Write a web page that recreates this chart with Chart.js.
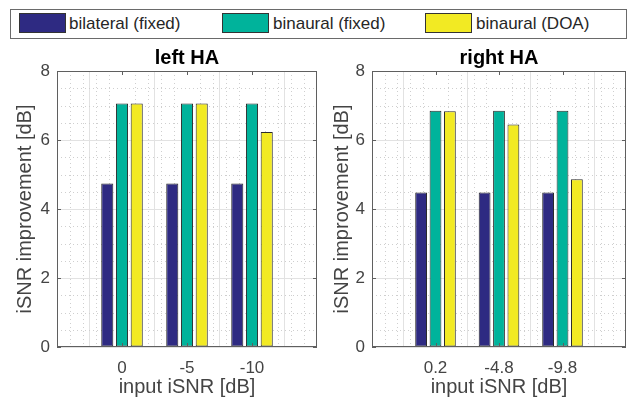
<!DOCTYPE html>
<html>
<head>
<meta charset="utf-8">
<script src="https://cdn.jsdelivr.net/npm/chart.js@4/dist/chart.umd.min.js"></script>
<style>
  html, body { margin: 0; padding: 0; background: #fff; }
  body { width: 629px; height: 399px; position: relative; overflow: hidden; font-family: "Liberation Sans", Arial, sans-serif; }
  #legend { position: absolute; left: 10px; top: 9px; width: 615px; height: 28px; border: 1px solid #6a6a6a; }
  .sw { position: absolute; top: 3px; width: 45px; height: 18px; border: 1px solid #333; }
  .lt { position: absolute; top: 3px; font-size: 17px; line-height: 21px; color: #262626; white-space: nowrap; }
  canvas { position: absolute; }
</style>
</head>
<body>
<div id="legend"></div>
<canvas id="leftChart" width="328" height="355" style="left:0px;top:44px"></canvas>
<canvas id="rightChart" width="319" height="355" style="left:318px;top:44px"></canvas>
<script>
// séries e categorias
const seriesNames = ["bilateral (fixed)", "binaural (fixed)", "binaural (DOA)"];
const seriesColors = ["#2e2a82", "#00b39b", "#f2ea23"];

const leftCats = ["0", "-5", "-10"];
const leftBilateral = [4.74, 4.74, 4.74];
const leftBinaural = [7.06, 7.06, 7.06];
const leftDoa = [7.06, 7.06, 6.23];

const rightCats = ["0.2", "-4.8", "-9.8"];
const rightBilateral = [4.48, 4.48, 4.48];
const rightBinaural = [6.85, 6.85, 6.85];
const rightDoa = [6.83, 6.45, 4.86];

const yTicks = [0, 2, 4, 6, 8];

Chart.defaults.font.family = '"Liberation Sans", Arial, sans-serif';

// === legenda (caixa única em cima) ===
const legend = document.getElementById("legend");
const swatchX = [8, 211, 414];
const textX = [58, 262, 465];
seriesNames.forEach((name, i) => {
  const sw = document.createElement("div");
  sw.className = "sw";
  sw.style.left = swatchX[i] + "px";
  sw.style.background = seriesColors[i];
  legend.appendChild(sw);
  const t = document.createElement("span");
  t.className = "lt";
  t.style.left = textX[i] + "px";
  t.textContent = name;
  legend.appendChild(t);
});

// grade menor pontilhada + caixa dos eixos, estilo MATLAB
const matlabBox = {
  id: "matlabBox",
  beforeDatasetsDraw(chart) {
    const { ctx, chartArea: a, scales: { x, y } } = chart;
    ctx.save();
    ctx.strokeStyle = "#cfcfcf";
    ctx.lineWidth = 1;
    ctx.setLineDash([1, 3]);
    for (let i = 1; i < 20; i++) {
      if (i % 5 === 0) continue;
      const px = Math.round(x.getPixelForValue(i / 5)) + 0.5;
      ctx.beginPath();
      ctx.moveTo(px, a.top);
      ctx.lineTo(px, a.bottom);
      ctx.stroke();
    }
    for (let i = 1; i < 16; i++) {
      if (i % 4 === 0) continue;
      const py = Math.round(y.getPixelForValue(i / 2)) + 0.5;
      ctx.beginPath();
      ctx.moveTo(a.left, py);
      ctx.lineTo(a.right, py);
      ctx.stroke();
    }
    ctx.restore();
  },
  afterDatasetsDraw(chart) {
    const { ctx, chartArea: a, scales: { x, y } } = chart;
    ctx.save();
    ctx.strokeStyle = "#5f5f5f";
    ctx.lineWidth = 1;
    ctx.strokeRect(Math.round(a.left) + 0.5, Math.round(a.top) + 0.5,
      Math.round(a.right - a.left) - 1, Math.round(a.bottom - a.top) - 1);
    ctx.beginPath();
    for (let i = 1; i < 4; i++) {
      const px = Math.round(x.getPixelForValue(i)) + 0.5;
      ctx.moveTo(px, a.top); ctx.lineTo(px, a.top + 4);
      ctx.moveTo(px, a.bottom); ctx.lineTo(px, a.bottom - 4);
    }
    yTicks.forEach(v => {
      const py = Math.round(y.getPixelForValue(v)) + 0.5;
      ctx.moveTo(a.left, py); ctx.lineTo(a.left + 4, py);
      ctx.moveTo(a.right, py); ctx.lineTo(a.right - 4, py);
    });
    ctx.stroke();
    ctx.restore();
  }
};

function buildChart(canvasId, title, cats, series, yAxisWidth, yTitlePad) {
  const labels = ["", ...cats, ""];
  const datasets = series.map((vals, i) => ({
    label: seriesNames[i],
    data: [null, ...vals, null],
    backgroundColor: seriesColors[i],
    borderColor: "#2b2b2b",
    borderWidth: 1,
    borderSkipped: false,
    categoryPercentage: 0.68,
    barPercentage: 0.82
  }));

  return new Chart(document.getElementById(canvasId), {
    type: "bar",
    data: { labels, datasets },
    plugins: [matlabBox],
    options: {
      responsive: false,
      animation: false,
      layout: { padding: { left: 0, right: 3, top: 0, bottom: 0 } },
      plugins: {
        legend: { display: false },
        tooltip: { enabled: false },
        title: {
          display: true,
          fullSize: false,
          text: title,
          color: "#000",
          font: { size: 20, weight: "bold" },
          padding: { top: 2, bottom: 1 }
        }
      },
      scales: {
        x: {
          offset: false,
          grid: { color: "#e2e2e2", drawTicks: false },
          border: { display: false },
          ticks: { color: "#444", font: { size: 17 }, padding: 11, maxRotation: 0, autoSkip: false },
          title: { display: true, text: "input iSNR [dB]", color: "#444", font: { size: 20 }, padding: 0 },
          afterFit: s => { s.height = 52; }
        },
        y: {
          min: 0,
          max: 8,
          grid: { color: "#e2e2e2", drawTicks: false },
          border: { display: false },
          ticks: { stepSize: 2, color: "#444", font: { size: 17 }, padding: 7 },
          title: { display: true, text: "iSNR improvement [dB]", color: "#444", font: { size: 20 }, padding: { top: yTitlePad, bottom: 0 } },
          afterFit: s => { s.width = yAxisWidth; }
        }
      }
    }
  });
}

buildChart("leftChart", "left HA", leftCats, [leftBilateral, leftBinaural, leftDoa], 57, 13);
buildChart("rightChart", "right HA", rightCats, [rightBilateral, rightBinaural, rightDoa], 54, 12);
</script>
</body>
</html>
